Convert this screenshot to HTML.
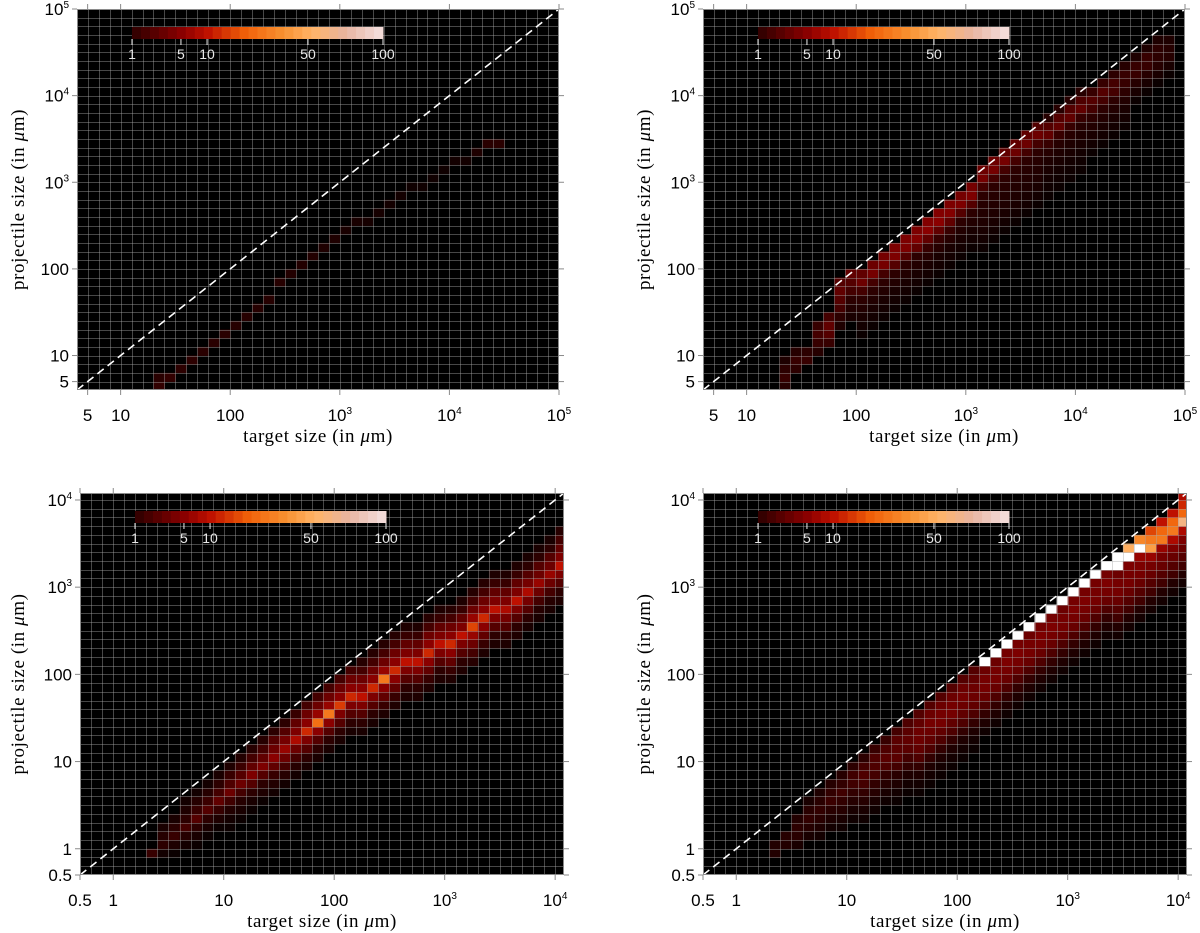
<!DOCTYPE html>
<html><head><meta charset="utf-8"><style>
html,body{margin:0;padding:0;background:#fff;}
svg{display:block;}
.tk{font-family:"Liberation Sans",sans-serif;font-size:17px;fill:#000;}
.ttl{font-family:"Liberation Serif",serif;font-size:19px;fill:#000;letter-spacing:0.6px;}
.cb{font-family:"Liberation Sans",sans-serif;font-size:14px;fill:#e8e8e8;}
</style></head><body>
<svg id="fig" width="1200" height="933" viewBox="0 0 1200 933" xmlns="http://www.w3.org/2000/svg"></svg>
<script>
// ---------- data (log10 bin index = value*10) ----------
const tlCols=[13,14,15,16,17,18,19,20,21,22,23,24,25,26,27,28,29,30,31,32,33,34,35,36,37,38,39,40,41,42,43,44];
const tlY0=[6,7,8,9,10,11,12,13,14,15,16,18,19,20,21,22,23,24,25,25,26,27,28,29,29,30,31,32,32,33,34,34];
const tlVals=[[1.1,0.9],[1.1],[1],[1],[0.9],[0.9],[0.9],[0.8],[0.8],[0.8],[0.8],[0.8],[0.7],[0.7],[0.7],[0.6],[0.6],[0.5],[0.5],[0.45],[0.45],[0.4],[0.4],[0.35],[0.35],[0.35],[0.35],[0.4],[0.4],[0.6],[0.9],[0.9]];

const trCols=[13,14,15,16,17,18,19,20,21,22,23,24,25,26,27,28,29,30,31,32,33,34,35,36,37,38,39,40,41,42,43,44,45,46,47,48];
const trY0=[6,8,9,10,11,13,14,12,13,14,15,16,17,18,19,20,21,22,22,23,24,25,26,27,28,29,30,31,33,34,35,36,39,40,41,42];
const trVals=[
[0.8,1.2,1,0.6],[1,1.2,0.8],[1.2,1],[0.8,1.2,1.5,1.2],[1.2,2,2.5,1.5],[0.6,1,1.5,2,2.5,2],[0.5,0.7,1,1.5,2,2.5],
[0.3,0.4,0.5,0.7,1,1.5,3,2.5],[0.3,0.4,0.5,0.7,1,1.5,3.5,3],[0.3,0.4,0.5,0.7,1,1.5,3.5,3.5],[0.3,0.4,0.5,0.7,1,2,4,4],[0.3,0.4,0.5,0.7,1,2,4,4],
[0.3,0.4,0.5,0.7,1,2.5,4.5,4],[0.3,0.4,0.5,0.8,1.2,2.5,5,4.5],[0.3,0.4,0.5,0.8,1.2,2.5,5,4.5],[0.3,0.4,0.5,0.8,1.2,2.5,4.5,4],[0.3,0.4,0.5,0.7,1,2,4,3.5],[0.3,0.4,0.5,0.7,1,2,4,3.5],
[0.3,0.4,0.5,0.6,0.7,0.8,1,1.5,3.5,3],[0.3,0.4,0.5,0.6,0.7,0.8,1,1.5,3.5,3],[0.3,0.4,0.5,0.6,0.7,0.8,1,1.5,3.5,2.5],[0.3,0.4,0.5,0.6,0.7,0.8,1,1.5,3,2.5],[0.3,0.4,0.5,0.6,0.7,0.8,1,1.5,3,2.5],[0.3,0.4,0.5,0.6,0.7,0.8,1,1.5,3,2],
[0.3,0.35,0.4,0.5,0.6,0.8,1.2,2.5,2,0.8],[0.3,0.35,0.4,0.5,0.6,0.8,1.2,2.5,2,0.8],[0.3,0.35,0.4,0.5,0.6,0.8,1.2,2.5,2,0.8],[0.3,0.35,0.4,0.5,0.6,0.8,1.2,2.5,1.8,0.8],
[0.3,0.4,0.5,0.7,1,1.5,2,1.2],[0.3,0.4,0.5,0.7,1,1.5,2,1.2],[0.3,0.4,0.5,0.7,1,1.5,1.5,1],[0.3,0.4,0.5,0.7,1,1.2,1.2,0.8],
[0.3,0.5,0.8,1.2,1.2,0.6],[0.3,0.5,0.8,1.2,1.2,0.6],[0.3,0.5,0.8,1,1,0.6],[0.3,0.5,0.8,0.8,0.6]];

const blCols=[3,4,5,6,7,8,9,10,11,12,13,14,15,16,17,18,19,20,21,22,23,24,25,26,27,28,29,30,31,32,33,34,35,36,37,38,39,40];
const blY0=[-1,-1,-1,0,0,1,2,2,3,4,5,6,7,8,9,10,11,12,13,13,14,15,16,17,17,18,19,19,20,21,22,23,23,24,25,26,27,28];
const blVals=[
[1.2],[0.4,1,0.8,0.5],[0.3,0.6,1.2,0.9,0.5],[0.4,0.8,1.5,1,0.6,0.4],[0.3,0.5,1,2,1.2,0.8,0.4],[0.3,0.5,1,2,1.3,0.8,0.4],
[0.3,0.6,1.2,2.5,1.5,1,0.5],[0.3,0.4,0.7,1.4,3,1.8,1.2,0.6],[0.3,0.5,0.8,1.5,3,2,1.3,0.7],[0.3,0.5,1,2,4,2.5,1.5,0.8],
[0.3,0.6,1,2,4,2.5,1.5,0.8],[0.4,0.7,1.2,2.5,5,3,2,1],[0.4,0.8,1.5,3,6,3.5,2,1],[0.4,0.8,1.5,3,8,4,2.5,1.2],
[0.5,1,2,4,12,5,3,1.5],[0.5,1,2,5,22,6,3,1.5],[0.5,1,2,5,25,6,3,1.5],[0.5,1,2,4,14,5,3,1.5],[0.5,1,2,4,12,5,3,1.5],
[0.5,1,2,4,10,5,3,1.5,0.8],[0.5,1,2,4,12,5,3,1.5,0.8],[0.6,1.2,2.5,5,25,6,3,1.5,0.8],[0.6,1.2,2.5,5,12,5,3,1.5,0.8],
[0.6,1,2,4,10,4,2.5,1.2,0.6],[0.6,1,2,4,10,4,2.5,1.2,0.6],[0.6,1.2,2.5,5,12,5,3,1.5,0.8],[0.6,1,2,4,10,4,2.5,1.2,0.6],
[0.6,1.2,2.5,5,12,5,3,1.5,0.8],[0.6,1,2,4,10,4,2.5,1.2,0.6],[0.8,1.5,3,6,15,6,3,1.5,0.8],[0.6,1.2,2.5,5,12,5,3,1.5,0.8],
[0.6,1,2,4,10,4,2.5,1.2,0.6],[0.6,1,2,3.5,8,4,2.5,1.2,0.6],[0.6,1,2,4,10,4,2.5,1.2,0.6],[0.5,1,2,3.5,8,3.5,2,1,0.5],
[0.5,0.8,1.5,3,6,3,2,1,0.5],[0.5,0.8,1.5,3,6,3,2,1,0.5],[0.6,1,2,4,10,4,2.5,1.5,0.8]];

const brCols=[3,4,5,6,7,8,9,10,11,12,13,14,15,16,17,18,19,20,21,22,23,24,25,26,27,28,29,30,31,32,33,34,35,36,37,38,39,40];
const brY0=[-1,0,0,1,1,2,2,3,3,4,5,5,6,6,7,8,9,10,11,13,14,15,16,17,18,19,20,21,22,23,24,24,25,26,27,28,29,30];
const brVals=[
[0.7,0.7],[0.7,0.8],[0.5,0.9,1,0.7],[0.5,0.8,1.1,0.9,0.5],[0.4,0.6,0.9,1.1,0.9,0.6],[0.4,0.6,0.9,1.3,1.1,0.8],
[0.35,0.5,0.8,1.1,1.4,1.1,0.8],[0.35,0.5,0.8,1.1,1.4,1.4,1],[0.35,0.5,0.8,1.1,1.5,1.8,1.5,1],[0.35,0.5,0.8,1.1,1.5,1.8,1.8,1.2],
[0.35,0.5,0.8,1.1,1.8,2.2,1.8,1.2],[0.3,0.4,0.6,0.9,1.5,2.2,2.2,2.2,1.5],[0.3,0.4,0.6,1.1,1.5,2.2,2.5,2.2,1.8],
[0.3,0.4,0.6,1.1,1.8,2.5,3,3,2.5,2],[0.3,0.4,0.6,1.1,1.8,2.5,3,3.5,3,2],[0.3,0.4,0.6,1.1,1.8,2.5,3.5,3.5,3,2],
[0.3,0.4,0.6,1.1,1.8,2.5,3.5,3.5,3,2],[0.3,0.4,0.6,1.1,1.8,2.5,3,3.5,3,2],[0.3,0.4,0.6,1.1,1.8,2.5,3,3,2.5,2],
[0.35,0.6,1.1,1.8,2.8,3.5,3.5,3,150],[0.35,0.6,1.1,1.8,2.8,3.5,3.5,3,150],[0.35,0.6,1.1,1.8,2.8,3.5,4,3.5,150],[0.35,0.6,1.1,1.8,2.8,3.5,4,3.5,150],
[0.35,0.6,1.1,1.8,2.8,3.5,3.5,3,150],[0.35,0.6,1.1,1.8,2.8,3.5,4,3.5,150],[0.35,0.6,1.1,1.8,2.8,3.5,4,3.5,150],[0.35,0.6,1.1,1.8,2.8,3.5,3.5,3,150],
[0.35,0.6,1.1,1.8,2.8,3.5,4,3.5,150],[0.35,0.6,1.1,1.8,2.8,3.5,4,3.5,150],[0.35,0.6,1.1,1.8,2.8,3.5,3.5,3.5,150],[0.35,0.6,1.1,1.8,2.8,3.5,4,3.5,150],
[0.4,0.7,1.4,2,2.8,3.5,3.5,3,150,150],[0.4,0.7,1.4,2,2.8,3.5,3.5,4,120,50],[0.4,0.7,1.4,2,2.8,3.5,4,6,110,30],[0.4,0.7,1.4,2,2.8,3.5,6,40,25,15],
[0.4,0.7,1.4,2,2.8,3.5,6,25,20,10],[0.4,0.7,1.4,2,2.8,4,8,25,20,10],[0.4,0.7,1.4,2,2.8,4,8,60,20,12,8]];

const topTicks=[5,10,100,1000,10000,100000];
const botTicks=[0.5,1,10,100,1000,10000];
const cbTicks=[1,5,10,50,100];
const cbFrac=[0,0.195,0.299,0.701,1];

// ---------- helpers ----------
const NS='http://www.w3.org/2000/svg';
const svg=document.getElementById('fig');
function mk(tag,attrs,parent){const e=document.createElementNS(NS,tag);for(const k in attrs)e.setAttribute(k,attrs[k]);parent.appendChild(e);return e;}
const stops=[[0,[44,0,0]],[0.2,[140,0,0]],[0.3,[190,16,0]],[0.45,[240,96,8]],[0.6,[248,144,48]],[0.72,[255,180,104]],[0.85,[232,180,160]],[1,[244,224,224]]];
function fracOf(v){
  const lv=Math.log10(v);
  for(let i=0;i<cbTicks.length-1;i++){
    const a=Math.log10(cbTicks[i]),b=Math.log10(cbTicks[i+1]);
    if(lv<=b) return cbFrac[i]+(lv-a)/(b-a)*(cbFrac[i+1]-cbFrac[i]);
  }
  return 1;
}
function colF(f){
  for(let i=0;i<stops.length-1;i++){
    if(f<=stops[i+1][0]){const t=(f-stops[i][0])/(stops[i+1][0]-stops[i][0]);
      const c=stops[i][1].map((x,j)=>Math.round(x+(stops[i+1][1][j]-x)*t));return 'rgb('+c+')';}
  }
  return 'rgb(244,224,224)';
}
function color(v){
  if(v>100) return '#ffffff';
  if(v<1){const t=Math.max(0,(Math.log10(v)+0.7)/0.7);return 'rgb('+Math.round(44*t)+',0,0)';}
  return colF(fracOf(v));
}
function fmt(v){
  if(v>=1000) return {b:'10',e:String(Math.round(Math.log10(v)))};
  return {b:String(v),e:null};
}

const panels=[
 {id:'top-left',L:77,T:9,W:482,H:381,lo:0.602,hi:5.0,ticks:topTicks,cols:tlCols,y0:tlY0,vals:tlVals,yt:24},
 {id:'top-right',L:703,T:9,W:482,H:381,lo:0.602,hi:5.0,ticks:topTicks,cols:trCols,y0:trY0,vals:trVals,yt:650},
 {id:'bottom-left',L:80,T:493,W:484,H:382,lo:-0.301,hi:4.08,ticks:botTicks,cols:blCols,y0:blY0,vals:blVals,yt:24},
 {id:'bottom-right',L:703,T:493,W:484,H:382,lo:-0.301,hi:4.08,ticks:botTicks,cols:brCols,y0:brY0,vals:brVals,yt:650}
];

panels.forEach(p=>{
  const sx=l=>p.L+(l-p.lo)/(p.hi-p.lo)*p.W;
  const sy=l=>p.T+p.H-(l-p.lo)/(p.hi-p.lo)*p.H;
  const g=mk('g',{},svg);
  
  
  const cp=mk('clipPath',{id:'clip-'+p.id},g);
  mk('rect',{x:p.L,y:p.T,width:p.W,height:p.H},cp);
  const bg=mk('rect',{x:p.L,y:p.T,width:p.W,height:p.H,fill:'#000'},g);
  
  
  const cells=mk('g',{'clip-path':'url(#clip-'+p.id+')'},g);
  
  
  p.cols.forEach((c,i)=>{
    p.vals[i].forEach((v,k)=>{
      const yb=p.y0[i]+k;
      const x0=sx(c/10),x1=sx((c+1)/10),y1=sy(yb/10),y0=sy((yb+1)/10);
      const r=mk('rect',{x:x0.toFixed(2),y:y0.toFixed(2),width:(x1-x0+0.4).toFixed(2),height:(y1-y0+0.4).toFixed(2),fill:color(v)},cells);
      
      
    });
  });
  const grid=mk('g',{'clip-path':'url(#clip-'+p.id+')',stroke:'rgba(170,170,170,0.42)','stroke-width':1},g);
  
  
  for(let b=Math.ceil(p.lo*10);b<=Math.floor(p.hi*10);b++){
    const X=Math.round(sx(b/10))+0.5,Y=Math.round(sy(b/10))+0.5;
    mk('line',{x1:X,x2:X,y1:p.T,y2:p.T+p.H},grid);
    mk('line',{x1:p.L,x2:p.L+p.W,y1:Y,y2:Y},grid);
  }
  const d=mk('line',{x1:sx(p.lo),y1:sy(p.lo),x2:sx(p.hi),y2:sy(p.hi),stroke:'#fff','stroke-width':1.6,'stroke-dasharray':'8 5','clip-path':'url(#clip-'+p.id+')'},g);
  
  
  const fr=mk('rect',{x:p.L+0.5,y:p.T+0.5,width:p.W-1,height:p.H-1,fill:'none',stroke:'#8a8a8a','stroke-width':1},g);
  
  
  p.ticks.forEach(t=>{
    const l=Math.log10(t),X=sx(l),Y=sy(l);
    mk('line',{x1:X,x2:X,y1:p.T+p.H,y2:p.T+p.H+5,stroke:'#8a8a8a'},g);
    mk('line',{x1:X,x2:X,y1:p.T,y2:p.T-5,stroke:'#8a8a8a'},g);
    mk('line',{x1:p.L,x2:p.L-5,y1:Y,y2:Y,stroke:'#8a8a8a'},g);
    mk('line',{x1:p.L+p.W,x2:p.L+p.W+5,y1:Y,y2:Y,stroke:'#8a8a8a'},g);
    const f=fmt(t);
    const tx=mk('text',{x:X,y:p.T+p.H+31,'text-anchor':'middle',class:'tk'},g);
    
    
    tx.textContent=f.b;
    if(f.e){const s=mk('tspan',{dy:-7,'font-size':10},tx);s.textContent=f.e;}
    const ty=mk('text',{x:p.L-8,y:Y+6,'text-anchor':'end',class:'tk'},g);
    
    
    ty.textContent=f.b;
    if(f.e){const s=mk('tspan',{dy:-7,'font-size':10},ty);s.textContent=f.e;}
  });
  const xt=mk('text',{x:p.L+p.W/2,y:p.T+p.H+52,'text-anchor':'middle',class:'ttl'},g);
  
  
  xt.innerHTML='target size (in <tspan font-style="italic">μ</tspan>m)';
  const yt=mk('text',{transform:'translate('+p.yt+','+(p.T+p.H/2)+') rotate(-90)','text-anchor':'middle',class:'ttl'},g);
  
  
  yt.innerHTML='projectile size (in <tspan font-style="italic">μ</tspan>m)';
  const cb=mk('g',{},g);
  
  
  const bx=p.L+55,by=p.T+18,bw=251,bh=12,N=28;
  for(let i=0;i<N;i++){
    const f=(i+0.5)/N;
    mk('rect',{x:bx+i*bw/N,y:by,width:bw/N+0.5,height:bh,fill:colF(f)},cb);
  }
  cbTicks.forEach((t,i)=>{
    const X=bx+cbFrac[i]*bw;
    mk('line',{x1:X,x2:X,y1:by+bh,y2:by+bh+6,stroke:'#eee','stroke-width':1},cb);
    const tl=mk('text',{x:X,y:by+bh+20,'text-anchor':'middle',class:'cb'},cb);
    
    
    tl.textContent=String(t);
  });
});
</script>
</body></html>
